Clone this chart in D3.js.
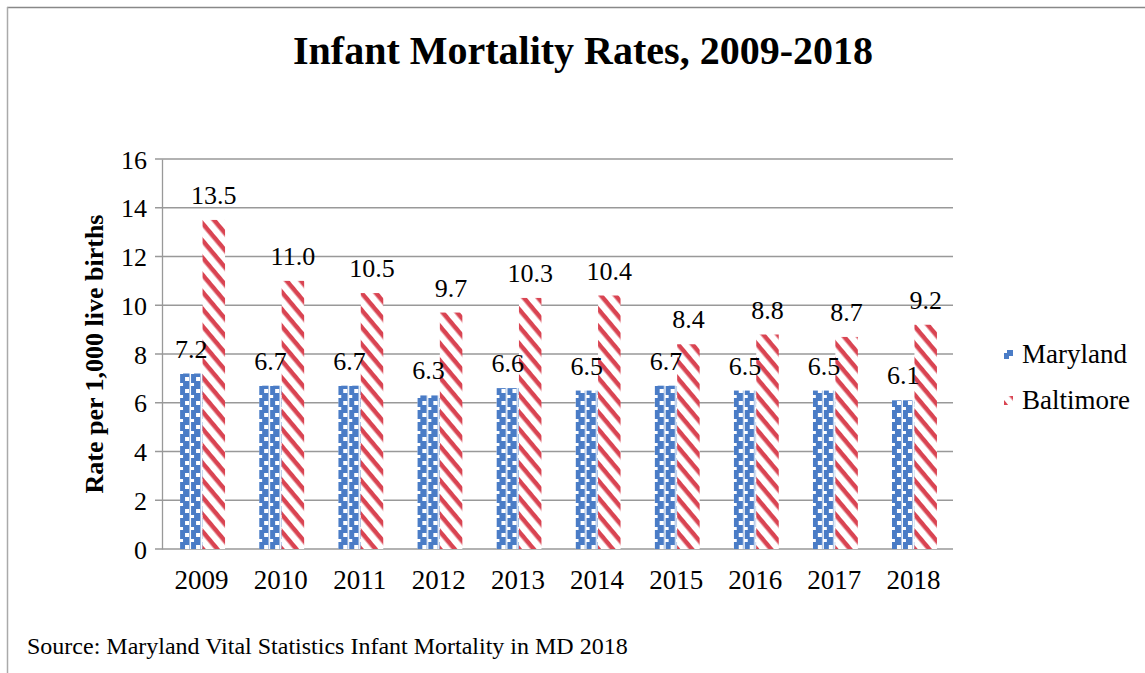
<!DOCTYPE html>
<html>
<head>
<meta charset="utf-8">
<script src="https://cdn.jsdelivr.net/npm/d3@7"></script>
<style>
  body { margin: 0; background: #fff; }
  svg text { font-family: "Liberation Serif", "Times New Roman", serif !important; fill: #000; }
</style>
</head>
<body>
<script>
var years = ["2009", "2010", "2011", "2012", "2013", "2014", "2015", "2016", "2017", "2018"];
var seriesNames = ["Maryland", "Baltimore"];
var maryland = [7.2, 6.7, 6.7, 6.3, 6.6, 6.5, 6.7, 6.5, 6.5, 6.1];
var baltimore = [13.5, 11.0, 10.5, 9.7, 10.3, 10.4, 8.4, 8.8, 8.7, 9.2];
var yTicks = [0, 2, 4, 6, 8, 10, 12, 14, 16];

var svgWidth = 1145;
var svgHeight = 673;
var margin = { top: 159, right: 192, bottom: 124, left: 162 };
var width = svgWidth - margin.left - margin.right;
var height = svgHeight - margin.top - margin.bottom;

var blue = "#4a7cc6";
var red = "#d94452";
var serif = "'Liberation Serif', 'Times New Roman', serif";

var svg = d3.select("body").append("svg")
    .attr("width", svgWidth)
    .attr("height", svgHeight);

// patterns
var defs = svg.append("defs");
var pBlue = defs.append("pattern")
    .attr("id", "pat-md")
    .attr("patternUnits", "userSpaceOnUse")
    .attr("width", 11).attr("height", 12);
pBlue.append("rect").attr("width", 11).attr("height", 12).attr("fill", blue);
pBlue.append("rect").attr("x", 5).attr("y", 2).attr("width", 4).attr("height", 4).attr("fill", "#fff");
pBlue.append("rect").attr("x", 0).attr("y", 8).attr("width", 3).attr("height", 3).attr("fill", "#fff");
pBlue.append("rect").attr("x", 9.5).attr("y", 0).attr("width", 1.5).attr("height", 12).attr("fill", "#fff");

var pRed = defs.append("pattern")
    .attr("id", "pat-bal")
    .attr("patternUnits", "userSpaceOnUse")
    .attr("width", 11).attr("height", 11)
    .attr("patternTransform", "rotate(50)");
pRed.append("rect").attr("width", 11).attr("height", 11).attr("fill", "#fff");
pRed.append("rect").attr("x", 0).attr("y", 0).attr("width", 11).attr("height", 4.5).attr("fill", red);

var fills = ["url(#pat-md)", "url(#pat-bal)"];

// frame
svg.append("line").attr("x1", 7).attr("x2", svgWidth).attr("y1", 7.5).attr("y2", 7.5)
    .attr("stroke", "#888").attr("stroke-width", 1.5);
svg.append("line").attr("x1", 7.5).attr("x2", 7.5).attr("y1", 7).attr("y2", svgHeight)
    .attr("stroke", "#aaa").attr("stroke-width", 1.5);

// title
svg.append("text")
    .attr("x", 583).attr("y", 64)
    .attr("text-anchor", "middle")
    .style("font-family", serif)
    .style("font-size", "40px").style("font-weight", "bold")
    .text("Infant Mortality Rates, 2009-2018");

var chartGroup = svg.append("g")
    .attr("transform", `translate(${margin.left}, ${margin.top})`);

var x0 = d3.scaleBand().domain(years).range([0, width]);
var x1 = d3.scaleBand().domain(seriesNames).range([0, 45]);
var y = d3.scaleLinear().domain([0, 16]).range([height, 0]);

// gridlines
chartGroup.selectAll(".grid")
    .data(yTicks)
    .enter().append("line")
    .attr("x1", -7).attr("x2", width)
    .attr("y1", d => y(d)).attr("y2", d => y(d))
    .attr("stroke", "#999").attr("stroke-width", 1.3);

// y axis
var leftAxis = d3.axisLeft(y).tickValues(yTicks).tickSize(0).tickPadding(15);
var yAxis = chartGroup.append("g").call(leftAxis).attr("font-family", serif);
yAxis.select(".domain").attr("stroke", "#999").attr("stroke-width", 1.3);
yAxis.selectAll("text").style("font-family", serif).style("font-size", "26px").attr("dy", "0.35em");

// x axis
var bottomAxis = d3.axisBottom(x0).tickSize(0).tickPadding(21);
var xAxis = chartGroup.append("g")
    .attr("transform", `translate(0, ${height})`)
    .call(bottomAxis).attr("font-family", serif);
xAxis.select(".domain").remove();
xAxis.selectAll("text").style("font-family", serif).style("font-size", "27px");

// bars
var rows = years.map((yr, i) => ({ year: yr, vals: [maryland[i], baltimore[i]] }));
var groups = chartGroup.selectAll(".grp")
    .data(rows)
    .enter().append("g")
    .attr("transform", d => `translate(${x0(d.year) + (x0.bandwidth() - 45) / 2 + 1}, 0)`);

groups.selectAll("rect")
    .data(d => d.vals.map((v, k) => ({ v: v, k: k })))
    .enter().append("rect")
    .attr("x", d => x1(seriesNames[d.k]))
    .attr("width", x1.bandwidth())
    .attr("y", d => y(d.v))
    .attr("height", d => height - y(d.v))
    .attr("fill", d => fills[d.k]);

groups.selectAll(".lbl")
    .data(d => d.vals.map((v, k) => ({ v: v, k: k })))
    .enter().append("text")
    .attr("x", d => x1(seriesNames[d.k]) + x1.bandwidth() / 2)
    .attr("y", d => y(d.v) - 16)
    .attr("text-anchor", "middle")
    .style("font-family", serif)
    .style("font-size", "26px")
    .text(d => d.v.toFixed(1));

// y axis title
svg.append("text")
    .attr("transform", "translate(103, 354) rotate(-90)")
    .attr("text-anchor", "middle")
    .style("font-family", serif)
    .style("font-size", "26px").style("font-weight", "bold")
    .text("Rate per 1,000 live births");

// legend
var legend = svg.selectAll(".legend")
    .data(seriesNames)
    .enter().append("g")
    .attr("transform", (d, i) => `translate(1004, ${354 + i * 46})`);
legend.append("rect")
    .attr("x", 0).attr("y", -4).attr("width", 9).attr("height", 9)
    .attr("fill", (d, i) => fills[i]);
legend.append("text")
    .attr("x", 18).attr("y", 0).attr("dy", "0.35em")
    .style("font-family", serif)
    .style("font-size", "27px")
    .text(d => d);

// source
svg.append("text")
    .attr("x", 27).attr("y", 654)
    .style("font-family", serif)
    .style("font-size", "24px")
    .text("Source: Maryland Vital Statistics Infant Mortality in MD 2018");
</script>
</body>
</html>
